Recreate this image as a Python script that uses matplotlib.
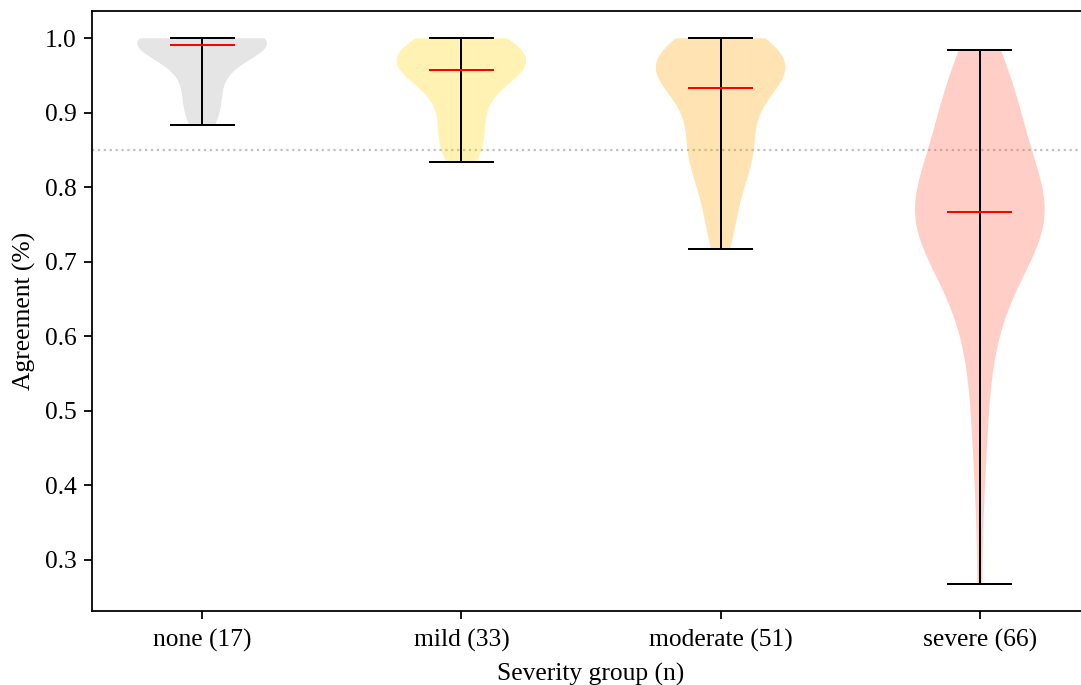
import matplotlib
matplotlib.use("Agg")
import matplotlib.pyplot as plt

plt.rcParams['font.family'] = ['Liberation Serif', 'DejaVu Serif']
plt.rcParams['font.size'] = 11.5

groups = ["none", "mild", "moderate", "severe"]
colors = ["darkgray", "gold", "orange", "tomato"]

none_vals = [0.883, 0.900, 0.917, 0.933, 0.950, 0.967, 0.975, 0.983, 0.991,
             0.992, 1.0, 1.0, 1.0, 1.0, 1.0, 1.0, 1.0]
mild_vals = [0.834, 0.84, 0.85, 0.86, 0.87, 0.88, 0.89, 0.90, 0.91, 0.92,
             0.93, 0.94, 0.945, 0.95, 0.953, 0.955, 0.958, 0.96, 0.962, 0.965,
             0.967, 0.97, 0.972, 0.975, 0.98, 0.983, 0.987, 0.99, 1.0, 1.0,
             1.0, 1.0, 1.0]
moderate_vals = [0.717, 0.73, 0.745, 0.76, 0.775, 0.79, 0.80, 0.81, 0.82, 0.83,
                 0.835, 0.84, 0.845, 0.85, 0.855, 0.86, 0.87, 0.875, 0.88, 0.89,
                 0.90, 0.91, 0.92, 0.925, 0.93, 0.933, 0.937, 0.94, 0.945, 0.95,
                 0.953, 0.955, 0.958, 0.96, 0.962, 0.964, 0.965, 0.967, 0.968, 0.97,
                 0.972, 0.975, 0.978, 0.98, 0.983, 0.986, 0.99, 0.993, 0.996, 1.0, 1.0]
severe_vals = [0.268, 0.38, 0.44, 0.48, 0.52, 0.55, 0.58, 0.60, 0.62, 0.635,
               0.65, 0.66, 0.67, 0.68, 0.69, 0.695, 0.70, 0.71, 0.715, 0.72,
               0.725, 0.73, 0.735, 0.74, 0.745, 0.75, 0.753, 0.756, 0.759, 0.762,
               0.764, 0.765, 0.766, 0.768, 0.772, 0.776, 0.78, 0.785, 0.79, 0.795,
               0.80, 0.805, 0.81, 0.82, 0.825, 0.83, 0.84, 0.845, 0.85, 0.86,
               0.865, 0.87, 0.88, 0.89, 0.895, 0.90, 0.91, 0.92, 0.93, 0.935,
               0.94, 0.95, 0.96, 0.965, 0.975, 0.984]
threshold = 0.85

data = [none_vals, mild_vals, moderate_vals, severe_vals]
labels = [f"{g} ({len(d)})" for g, d in zip(groups, data)]

fig = plt.figure(figsize=(1081 / 160, 685 / 160), dpi=160)
ax = fig.add_axes([92 / 1081, 74 / 685, 998 / 1081, 600 / 685])

parts = ax.violinplot(data, showmedians=True)
for body, c in zip(parts['bodies'], colors):
    body.set_facecolor(c)
    body.set_edgecolor('none')
    body.set_alpha(0.3)
for key in ['cmaxes', 'cmins', 'cbars']:
    parts[key].set_color('black')
    parts[key].set_linewidth(0.9)
parts['cmedians'].set_color('red')
parts['cmedians'].set_linewidth(0.9)

ax.axhline(threshold, color='silver', linestyle=':', linewidth=1, zorder=0)
ax.spines['right'].set_visible(False)

ax.set_xticks(range(1, len(groups) + 1))
ax.set_xticklabels(labels)
ax.tick_params(axis='x', pad=4.5)
ax.set_xlabel('Severity group (n)', labelpad=5)
ax.set_ylabel('Agreement (%)')

fig.savefig('out.png', dpi=160)
